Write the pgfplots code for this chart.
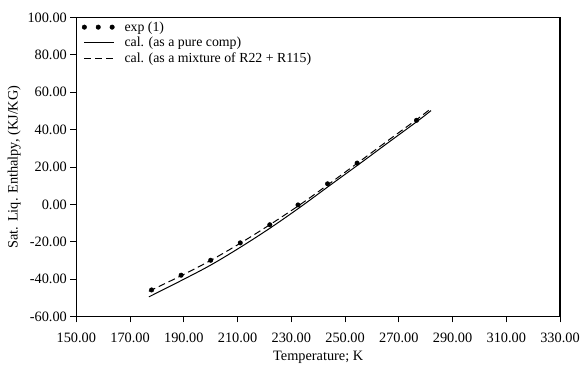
\documentclass[border=0pt]{standalone}
\usepackage{fontspec}
\setmainfont{Liberation Serif}
\usepackage{pgfplots}
\pgfplotsset{compat=1.18}
\begin{document}
\begin{tikzpicture}
\begin{axis}[
  scale only axis, width=488bp, height=301.6bp,
  xmin=150, xmax=330, ymin=-60, ymax=100,
  xtick={150,170,...,330}, ytick={-60,-40,...,100},
  tick align=outside, xtick pos=bottom, ytick pos=left,
  major tick length=6bp,
  axis line style={line width=1.1bp},
  every tick/.style={black, line width=1bp},
  /pgf/number format/fixed, /pgf/number format/fixed zerofill,
  /pgf/number format/precision=2, /pgf/number format/assume math mode=true,
  ticklabel style={font=\fontsize{14.5}{16}\selectfont},
  xticklabel style={yshift=-7bp},
  label style={font=\fontsize{14.5}{16}\selectfont},
  xlabel={Temperature; K},
  ylabel={Sat. Liq. Enthalpy, (KJ/KG)},
  xlabel style={yshift=-2bp},
  legend style={draw=none, fill=none, at={(0.005,0.995)}, anchor=north west,
    font=\fontsize{14}{15}\selectfont, row sep=3.6bp, cells={anchor=west},
    nodes={inner ysep=0.4bp},
    /tikz/every odd column/.append style={column sep=8bp}},
  legend image code/.code={\draw[#1] (0bp,0bp) -- (30bp,0bp);},
]
\addplot[only marks, mark=*, mark size=2.3bp, black,
  legend image code/.code={\fill[black] (0bp,0bp) circle (2.3bp); \fill[black] (14bp,0bp) circle (2.3bp); \fill[black] (28bp,0bp) circle (2.3bp);}]
  coordinates {(178,-45.8) (189,-37.9) (200,-29.9) (211,-20.6) (222,-10.9) (232.5,-0.3) (243.5,11.0) (254.5,22.1) (276.6,45.0)};
\addlegendentry{exp (1)}
\addplot[black, line width=1bp, smooth, no marks]
  coordinates {(177,-49.5) (189,-40.8) (200,-32.5) (211,-23.0) (222,-12.8) (233,-1.8) (244,9.8) (255,21.3) (266,33.0) (277,44.6) (282,50.2)};
\addlegendentry{cal. (as a pure comp)}
\addplot[black, line width=1bp, dash pattern=on 7bp off 4bp, smooth, no marks]
  coordinates {(177,-46.5) (189,-38.2) (200,-30.0) (211,-20.8) (222,-10.9) (233,-0.4) (244,10.9) (255,22.5) (266,34.2) (277,45.8) (282,51.3)};
\addlegendentry{cal. (as a mixture of R22 + R115)}
\end{axis}
\path ([xshift=-77bp,yshift=-63.7bp]current axis.south west) rectangle ([xshift=18bp,yshift=17.7bp]current axis.north east);
\end{tikzpicture}
\end{document}
